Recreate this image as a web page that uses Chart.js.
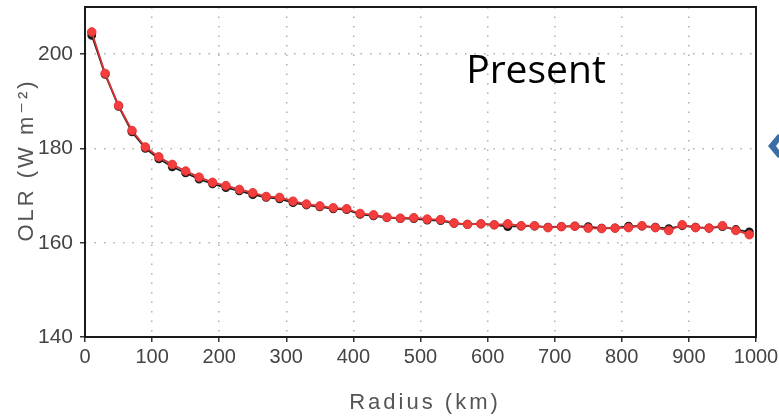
<!DOCTYPE html>
<html>
<head>
<meta charset="utf-8">
<script src="https://cdn.jsdelivr.net/npm/chart.js@4"></script>
<style>
  html, body { margin: 0; padding: 0; background: #fff; }
  canvas { display: block; }
</style>
</head>
<body>
<canvas id="olrChart" width="779" height="417"></canvas>
<script>
// radius (km) of each sample
const radius = [10, 30, 50, 70, 90, 110, 130, 150, 170, 190,
    210, 230, 250, 270, 290, 310, 330, 350, 370, 390,
    410, 430, 450, 470, 490, 510, 530, 550, 570, 590,
    610, 630, 650, 670, 690, 710, 730, 750, 770, 790,
    810, 830, 850, 870, 890, 910, 930, 950, 970, 990];

// red curve
const olrRed = [204.7, 195.9, 189.1, 183.8, 180.3, 178.2, 176.6, 175.2, 173.9, 172.8,
    172.1, 171.3, 170.6, 169.8, 169.6, 168.8, 168.2, 167.8, 167.4, 167.2,
    166.2, 165.9, 165.4, 165.2, 165.3, 165.0, 164.9, 164.2, 163.9, 164.0,
    163.8, 164.0, 163.6, 163.6, 163.2, 163.4, 163.5, 163.1, 163.0, 163.1,
    163.2, 163.6, 163.2, 162.6, 163.8, 163.2, 163.1, 163.6, 162.6, 161.7];

// black curve (mostly hidden under the red one)
const olrBlack = [204.0, 195.7, 188.9, 183.5, 180.0, 177.8, 176.1, 174.8, 173.5, 172.5,
    171.7, 171.0, 170.2, 169.6, 169.3, 168.5, 168.0, 167.6, 167.2, 167.0,
    166.0, 165.7, 165.3, 165.1, 165.1, 164.8, 164.7, 164.1, 163.9, 164.0,
    163.8, 163.4, 163.5, 163.5, 163.3, 163.4, 163.5, 163.4, 163.1, 163.1,
    163.5, 163.5, 163.3, 163.0, 163.6, 163.3, 163.1, 163.4, 162.8, 162.3];

const yTicks = [140, 160, 180, 200];
const xTitle = 'Radius (km)';
const yTitle = 'OLR (W m\u207B\u00B2)';
const panelLabel = 'Present';

const toPoints = (vals) => vals.map((v, i) => ({ x: radius[i], y: v }));

// frame, axis titles, panel label and the blue arrow on the right
const decorations = {
    id: 'decorations',
    afterDraw(chart) {
        const ctx = chart.ctx;
        const a = chart.chartArea;
        ctx.save();

        ctx.strokeStyle = '#1a1a1a';
        ctx.lineWidth = 2;
        ctx.strokeRect(a.left, a.top, a.right - a.left, a.bottom - a.top);

        ctx.fillStyle = '#555';
        ctx.font = '22px "Liberation Sans", "DejaVu Sans", sans-serif';
        ctx.letterSpacing = '3px';
        ctx.textAlign = 'center';
        ctx.textBaseline = 'alphabetic';
        ctx.fillText(xTitle, 425, 409);

        ctx.save();
        ctx.translate(33, 160);
        ctx.rotate(-Math.PI / 2);
        ctx.letterSpacing = '3px';
        ctx.fillText(yTitle, 0, 0);
        ctx.restore();

        ctx.letterSpacing = '0px';
        ctx.fillStyle = '#000';
        ctx.font = '39px "Open Sans", sans-serif';
        ctx.fillText(panelLabel, 536, 83);

        ctx.fillStyle = '#3c6ea6';
        ctx.beginPath();
        ctx.moveTo(768, 146);
        ctx.lineTo(778, 134);
        ctx.lineTo(782, 138);
        ctx.lineTo(776, 146);
        ctx.lineTo(782, 154);
        ctx.lineTo(778, 158);
        ctx.closePath();
        ctx.fill();

        ctx.restore();
    }
};

const gridStyle = {
    color: '#b0b0b0',
    lineWidth: 1.5,
    tickLength: 5,
    tickColor: '#333',
    tickBorderDash: []
};

new Chart(document.getElementById('olrChart').getContext('2d'), {
    type: 'line',
    data: {
        datasets: [
            {
                label: 'red',
                data: toPoints(olrRed),
                borderColor: '#d83232',
                borderWidth: 1.8,
                pointRadius: 4.3,
                pointBackgroundColor: '#f53d3d',
                pointBorderColor: '#e33535',
                pointBorderWidth: 1,
                tension: 0
            },
            {
                label: 'black',
                data: toPoints(olrBlack),
                borderColor: '#222',
                borderWidth: 1.8,
                pointRadius: 3.5,
                pointBackgroundColor: '#1a1a1a',
                pointBorderColor: '#1a1a1a',
                tension: 0
            }
        ]
    },
    options: {
        responsive: false,
        animation: false,
        layout: { padding: { top: 7, right: 23, left: 0, bottom: 0 } },
        plugins: {
            legend: { display: false },
            tooltip: { enabled: false }
        },
        scales: {
            x: {
                type: 'linear',
                min: 0,
                max: 1000,
                ticks: {
                    stepSize: 100,
                    color: '#444',
                    font: { family: '"Liberation Sans", sans-serif', size: 20 },
                    padding: 3,
                    maxRotation: 0,
                    callback: (v) => String(v)
                },
                grid: gridStyle,
                border: { display: false, dash: [1.5, 8] },
                afterFit(axis) {
                    axis.height = 80;
                    axis.paddingLeft = 0;
                    axis.paddingRight = 0;
                }
            },
            y: {
                min: 140,
                max: 210,
                afterBuildTicks(axis) { axis.ticks = yTicks.map(v => ({ value: v })); },
                ticks: { color: '#444', font: { family: '"Liberation Sans", sans-serif', size: 21 }, padding: 7 },
                grid: gridStyle,
                border: { display: false, dash: [1.5, 8] },
                afterFit(axis) {
                    axis.width = 85;
                    axis.paddingTop = 0;
                    axis.paddingBottom = 0;
                }
            }
        }
    },
    plugins: [decorations]
});
</script>
</body>
</html>
